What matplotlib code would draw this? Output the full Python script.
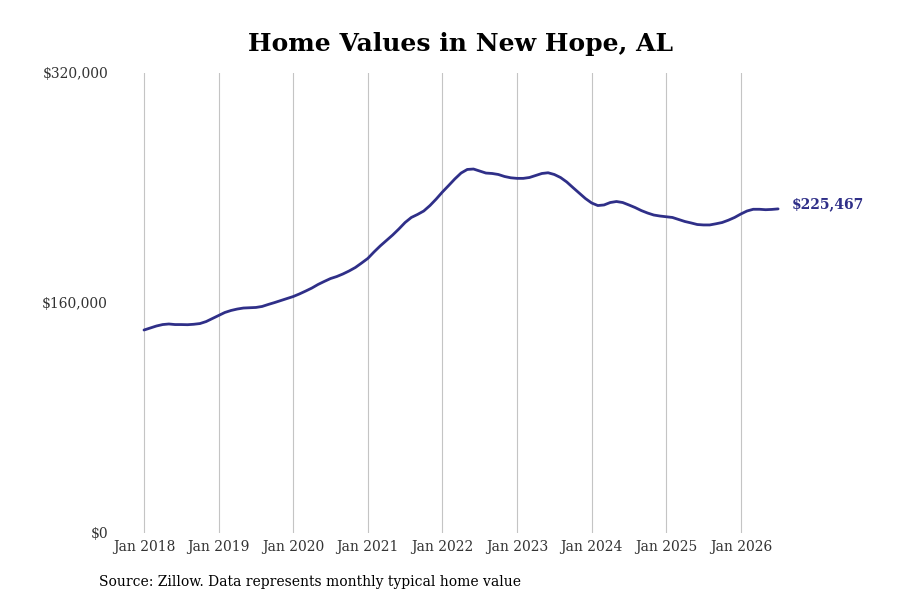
import numpy as np
import matplotlib.pyplot as plt

plt.rcParams['font.family'] = ['DejaVu Serif']

# monthly typical home value, Jan 2018 .. Jul 2026 (thousands of $)
values_2018 = [141.2, 142.6, 144.0, 145.0, 145.4, 145.0, 145.0, 144.9, 145.2, 145.7, 147.1, 149.2]
values_2019 = [151.3, 153.4, 154.8, 155.8, 156.5, 156.7, 156.9, 157.6, 159.0, 160.3, 161.7, 163.1]
values_2020 = [164.5, 166.3, 168.3, 170.4, 172.9, 175.0, 177.0, 178.4, 180.2, 182.3, 184.7, 187.8]
values_2021 = [191.0, 195.5, 199.7, 203.5, 207.3, 211.5, 216.0, 219.5, 221.6, 224.0, 227.8, 232.3]
values_2022 = [237.2, 241.7, 246.3, 250.4, 252.9, 253.2, 251.8, 250.4, 250.1, 249.4, 248.0, 247.1]
values_2023 = [246.7, 246.7, 247.3, 248.7, 250.1, 250.6, 249.4, 247.3, 244.2, 240.3, 236.5, 232.7]
values_2024 = [229.6, 227.8, 228.2, 229.9, 230.6, 229.9, 228.2, 226.4, 224.3, 222.6, 221.2, 220.5]
values_2025 = [220.0, 219.5, 218.1, 216.7, 215.7, 214.6, 214.3, 214.3, 215.1, 216.0, 217.6, 219.5]
values_2026 = [221.9, 224.0, 225.2, 225.2, 224.9, 225.1, 225.467]

years = [2018, 2019, 2020, 2021, 2022, 2023, 2024, 2025, 2026]
xlabels = ['Jan %d' % y for y in years]
yticks = [0, 160000, 320000]
ylabels = ['$0', '$160,000', '$320,000']

vals = np.array(values_2018 + values_2019 + values_2020 + values_2021 + values_2022
                + values_2023 + values_2024 + values_2025 + values_2026) * 1000
x = 2018 + np.arange(len(vals)) / 12.0

line_col = '#2f2f88'

fig = plt.figure(figsize=(9, 6), dpi=100)
ax = fig.add_axes([115 / 900, 67 / 600, 755 / 900, 460 / 600])

ax.plot(x, vals, color=line_col, lw=2.0, solid_capstyle='round')

ax.set_xlim(2018 - 29 / 74.6, 2018 + 726 / 74.6)
ax.set_ylim(0, 320000)
ax.set_xticks(years)
ax.set_xticklabels(xlabels)
ax.set_yticks(yticks)
ax.set_yticklabels(ylabels)
ax.tick_params(axis='both', length=0, labelsize=10, colors='#333333')
ax.tick_params(axis='y', pad=5)
ax.tick_params(axis='x', pad=5)
ax.grid(axis='x', color='#c4c4c4', lw=0.8)
ax.grid(axis='y', visible=False)
for s in ax.spines.values():
    s.set_visible(False)
# $0 label sits a touch lower in the original
ax.get_yticklabels()[0].set_y(-4000)

ax.annotate('$225,467', xy=(x[-1], vals[-1]), xytext=(10, 3.5), textcoords='offset points',
            ha='left', va='center', fontsize=10, fontweight='bold', color=line_col)

fig.text(461 / 900, 1 - 43.5 / 600, 'Home Values in New Hope, AL', ha='center', va='center',
         fontsize=18, fontweight='bold', color='black')
fig.text(99 / 900, 1 - 582 / 600, 'Source: Zillow. Data represents monthly typical home value',
         ha='left', va='center', fontsize=10, color='black')

fig.savefig('out.png', dpi=100)
